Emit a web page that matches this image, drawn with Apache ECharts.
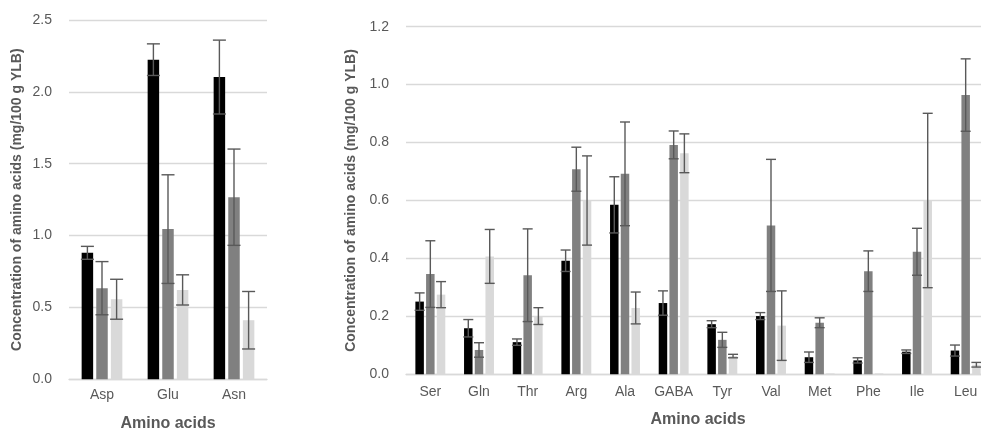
<!DOCTYPE html>
<html>
<head>
<meta charset="utf-8">
<script src="https://cdn.jsdelivr.net/npm/echarts@6/dist/echarts.min.js"></script>
<style>
html,body{margin:0;padding:0;background:#fff;overflow:hidden;}
#chart{width:981px;height:429px;}
</style>
</head>
<body>
<div id="chart"></div>
<script>
// ---- Data ----
const leftCategories = ['Asp', 'Glu', 'Asn'];
const leftBlack = [0.880, 2.224, 2.103];
const leftBlackErr = [0.045, 0.110, 0.257];
const leftGray = [0.634, 1.045, 1.267];
const leftGrayErr = [0.185, 0.378, 0.335];
const leftLight = [0.557, 0.622, 0.411];
const leftLightErr = [0.139, 0.105, 0.200];

const rightCategories = ['Ser', 'Gln', 'Thr', 'Arg', 'Ala', 'GABA', 'Tyr', 'Val', 'Met', 'Phe', 'Ile', 'Leu'];
const rightBlack = [0.251, 0.159, 0.111, 0.392, 0.585, 0.246, 0.173, 0.201, 0.059, 0.048, 0.078, 0.082];
const rightBlackErr = [0.030, 0.030, 0.011, 0.037, 0.097, 0.042, 0.012, 0.012, 0.018, 0.009, 0.006, 0.019];
const rightGray = [0.346, 0.084, 0.342, 0.708, 0.692, 0.792, 0.119, 0.514, 0.178, 0.356, 0.423, 0.964];
const rightGrayErr = [0.115, 0.025, 0.160, 0.076, 0.179, 0.048, 0.026, 0.228, 0.017, 0.070, 0.081, 0.125];
const rightLight = [0.275, 0.407, 0.201, 0.600, 0.229, 0.763, 0.063, 0.168, 0.003, 0.003, 0.600, 0.033];
const rightLightErr = [0.045, 0.093, 0.029, 0.154, 0.055, 0.067, 0.006, 0.120, 0, 0, 0.301, 0.008];

const yAxisName = 'Concentration of amino acids (mg/100 g YLB)';
const xAxisName = 'Amino acids';

// ---- Styling ----
const COLORS = ['#000000', '#808080', '#d9d9d9'];
const ERR_COLOR = '#595959';
const TEXT_COLOR = '#595959';
const FONT = '"Liberation Sans", Arial, sans-serif';
const LEFT_BW = 11.5, LEFT_GAP = 0.27;
const RIGHT_BW = 8.5, RIGHT_GAP = 0.26;

function errRenderer(barW, gapRatio, idx) {
  const step = barW * (1 + gapRatio);
  const half = (barW + 1.5) / 2;
  return function (params, api) {
    const x = api.value(0), v = api.value(1), e = api.value(2);
    if (!e) return null;
    const top = api.coord([x, v + e]);
    const bot = api.coord([x, v - e]);
    const cx = top[0] + (idx - 1) * step;
    const style = { stroke: ERR_COLOR, lineWidth: 1.4, fill: null };
    return {
      type: 'group',
      children: [
        { type: 'line', shape: { x1: cx, y1: top[1], x2: cx, y2: bot[1] }, style: style },
        { type: 'line', shape: { x1: cx - half, y1: top[1], x2: cx + half, y2: top[1] }, style: style },
        { type: 'line', shape: { x1: cx - half, y1: bot[1], x2: cx + half, y2: bot[1] }, style: style }
      ]
    };
  };
}

function makeBars(vals, errs, axisIdx, barW, gap) {
  const out = [];
  vals.forEach(function (arr, i) {
    out.push({
      type: 'bar', xAxisIndex: axisIdx, yAxisIndex: axisIdx,
      data: arr, barWidth: barW, barGap: Math.round(gap * 100) + '%',
      itemStyle: { color: COLORS[i] }, silent: true, z: 2
    });
  });
  errs.forEach(function (earr, i) {
    out.push({
      type: 'custom', xAxisIndex: axisIdx, yAxisIndex: axisIdx,
      data: vals[i].map(function (v, k) { return [k, v, earr[k]]; }),
      encode: { x: 0, y: 1 },
      renderItem: errRenderer(barW, gap, i), silent: true, z: 5
    });
  });
  return out;
}

function xAxisCfg(cats, idx, margin, nameGap) {
  return {
    type: 'category', gridIndex: idx, data: cats,
    axisLine: { show: true, lineStyle: { color: '#d9d9d9', width: 1.3 } },
    axisTick: { show: false },
    axisLabel: { color: TEXT_COLOR, fontSize: 14, fontFamily: FONT, margin: margin, interval: 0 },
    name: xAxisName, nameLocation: 'middle', nameGap: nameGap,
    nameTextStyle: { color: TEXT_COLOR, fontSize: 16, fontWeight: 'bold', fontFamily: FONT }
  };
}
function yAxisCfg(idx, max, interval) {
  return {
    type: 'value', gridIndex: idx, min: 0, max: max, interval: interval,
    axisLine: { show: false }, axisTick: { show: false },
    splitLine: { lineStyle: { color: '#d9d9d9', width: 1.3 } },
    axisLabel: { color: TEXT_COLOR, fontSize: 14, fontFamily: FONT, margin: 17,
      formatter: function (v) { return v.toFixed(1); } },
    name: yAxisName, nameLocation: 'middle', nameGap: 45, nameRotate: 90,
    nameTextStyle: { color: TEXT_COLOR, fontSize: 14, fontWeight: 'bold', fontFamily: FONT }
  };
}

const chart = echarts.init(document.getElementById('chart'), null, { renderer: 'canvas' });
chart.setOption({
  animation: false,
  backgroundColor: '#ffffff',
  grid: [
    { left: 69, top: 20, width: 198, height: 359.3, containLabel: false, outerBoundsMode: 'none' },
    { left: 406, top: 26.7, width: 584, height: 347.6, containLabel: false, outerBoundsMode: 'none' }
  ],
  xAxis: [xAxisCfg(leftCategories, 0, 9, 36), xAxisCfg(rightCategories, 1, 11, 37)],
  yAxis: [yAxisCfg(0, 2.5, 0.5), yAxisCfg(1, 1.2, 0.2)],
  series: [].concat(
    makeBars([leftBlack, leftGray, leftLight], [leftBlackErr, leftGrayErr, leftLightErr], 0, LEFT_BW, LEFT_GAP),
    makeBars([rightBlack, rightGray, rightLight], [rightBlackErr, rightGrayErr, rightLightErr], 1, RIGHT_BW, RIGHT_GAP)
  )
});
</script>
</body>
</html>
